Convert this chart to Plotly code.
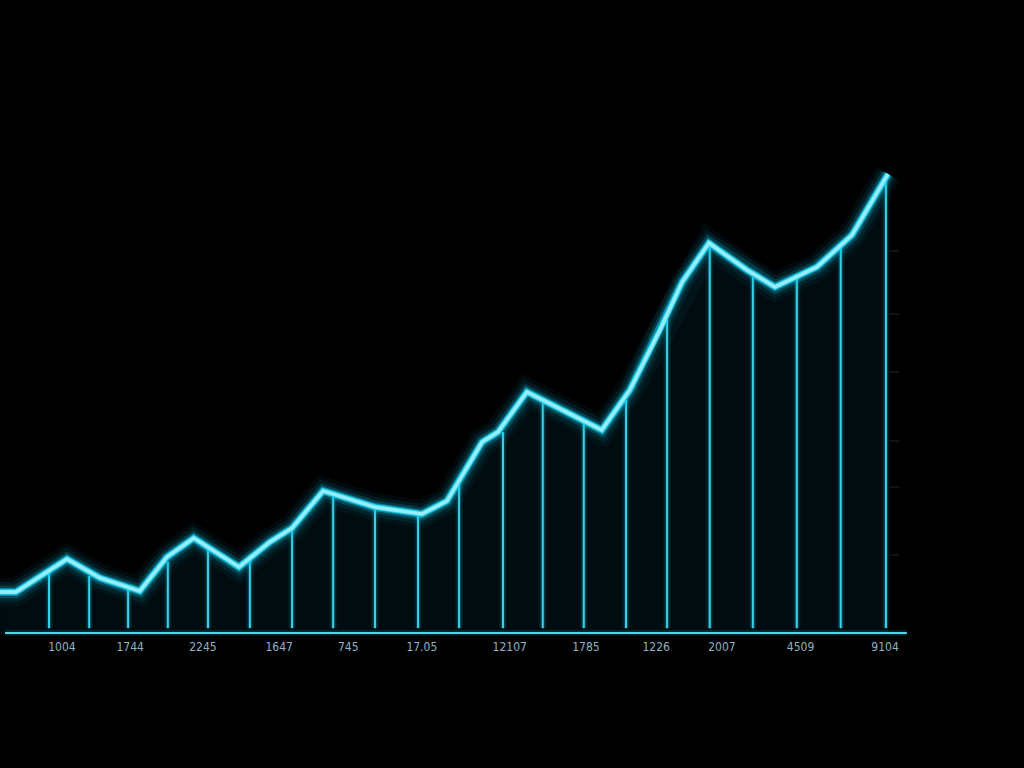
import plotly.graph_objects as go

# ---- data ----
# line vertices: x in period units, y in value units
line_x = [-1.17, -0.79, 0.43, 1.22, 2.17, 2.82, 3.46, 4.54, 5.28, 5.81, 6.55, 7.79,
          8.91, 9.51, 10.35, 10.73, 11.42, 12.76, 13.21, 13.88, 14.60, 15.13, 15.77,
          16.68, 17.35, 18.35, 19.19, 20.05]
line_y = [683, 683, 1233, 917, 700, 1267, 1583, 1100, 1517, 1750, 2367, 2100,
          1983, 2200, 3183, 3350, 4017, 3550, 3383, 4050, 5050, 5850, 6500,
          6050, 5767, 6100, 6633, 7650]

# vertical drop lines
stem_x = [0.00, 0.96, 1.89, 2.84, 3.80, 4.80, 5.81, 6.79, 7.79, 8.82, 9.80, 10.85,
          11.80, 12.78, 13.79, 14.77, 15.79, 16.82, 17.87, 18.92, 20.00]
stem_y = [1017, 950, 733, 1183, 1417, 1217, 1733, 2267, 2050, 1950, 2467, 3350,
          3833, 3500, 3883, 5217, 6433, 5933, 5917, 6433, 7517]
STEM_BASE = 80

# x tick labels
tick_x = [0.31, 1.94, 3.68, 5.50, 7.15, 8.91, 11.01, 12.83, 14.51, 16.08, 17.96, 19.98]
tick_labels = ["1004", "1744", "2245", "1647", "745", "17.05", "12107", "1785",
               "1226", "2007", "4509", "9104"]

# faint right-hand ticks
rtick_y = [6367, 5317, 4350, 3200, 2433, 1300]

X_RANGE = [-1.171, 23.30]
Y_RANGE = [-2250, 10550]
AXIS_X = [-1.05, 20.50]

fig = go.Figure()

# fill under the line
fig.add_trace(go.Scatter(x=line_x, y=line_y, mode="lines", fill="tozeroy",
                         fillcolor="rgba(0,100,125,0.12)",
                         line=dict(width=0, color="rgba(0,0,0,0)"),
                         hoverinfo="skip", showlegend=False))

# stems
sx, sy = [], []
for xv, yv in zip(stem_x, stem_y):
    sx += [xv, xv, None]
    sy += [STEM_BASE, yv, None]
for w, c in [(8, "rgba(0,200,240,0.07)"), (4.5, "rgba(0,205,240,0.2)"),
             (2, "rgba(60,215,240,0.95)")]:
    fig.add_trace(go.Scatter(x=sx, y=sy, mode="lines", line=dict(width=w, color=c),
                             hoverinfo="skip", showlegend=False))

# axis line
for w, c in [(6, "rgba(0,200,240,0.15)"), (2, "rgba(90,220,245,0.95)")]:
    fig.add_trace(go.Scatter(x=AXIS_X, y=[0, 0], mode="lines",
                             line=dict(width=w, color=c),
                             hoverinfo="skip", showlegend=False))

# glowing main line
for w, c in [(28, "rgba(0,180,225,0.05)"), (20, "rgba(0,195,235,0.09)"),
             (13, "rgba(0,205,240,0.2)"), (8, "rgba(10,210,245,0.5)"),
             (5.5, "rgba(50,222,250,0.85)"), (3.4, "rgba(150,238,252,1.0)")]:
    fig.add_trace(go.Scatter(x=line_x, y=line_y, mode="lines",
                             line=dict(width=w, color=c, shape="linear"),
                             hoverinfo="skip", showlegend=False))

# faint right ticks
fig.add_trace(go.Scatter(x=[20.2] * len(rtick_y), y=rtick_y, mode="markers",
                         marker=dict(symbol="line-ew", size=7,
                                     line=dict(width=1, color="rgba(110,160,170,0.25)")),
                         hoverinfo="skip", showlegend=False))

# x tick labels
fig.add_trace(go.Scatter(x=tick_x, y=[-250] * len(tick_x), mode="text",
                         text=tick_labels,
                         textfont=dict(family="DejaVu Sans Condensed, DejaVu Sans",
                                       size=12, color="#8db4c2"),
                         hoverinfo="skip", showlegend=False))

fig.update_layout(
    width=1024, height=768,
    paper_bgcolor="#000000", plot_bgcolor="#000000",
    margin=dict(l=0, r=0, t=0, b=0),
    xaxis=dict(range=X_RANGE, visible=False, fixedrange=True),
    yaxis=dict(range=Y_RANGE, visible=False, fixedrange=True),
    showlegend=False,
)

fig.write_html("out.html", config={"displayModeBar": False},
               post_script="document.body.style.margin='0';"
                           "document.body.style.background='#000';")
